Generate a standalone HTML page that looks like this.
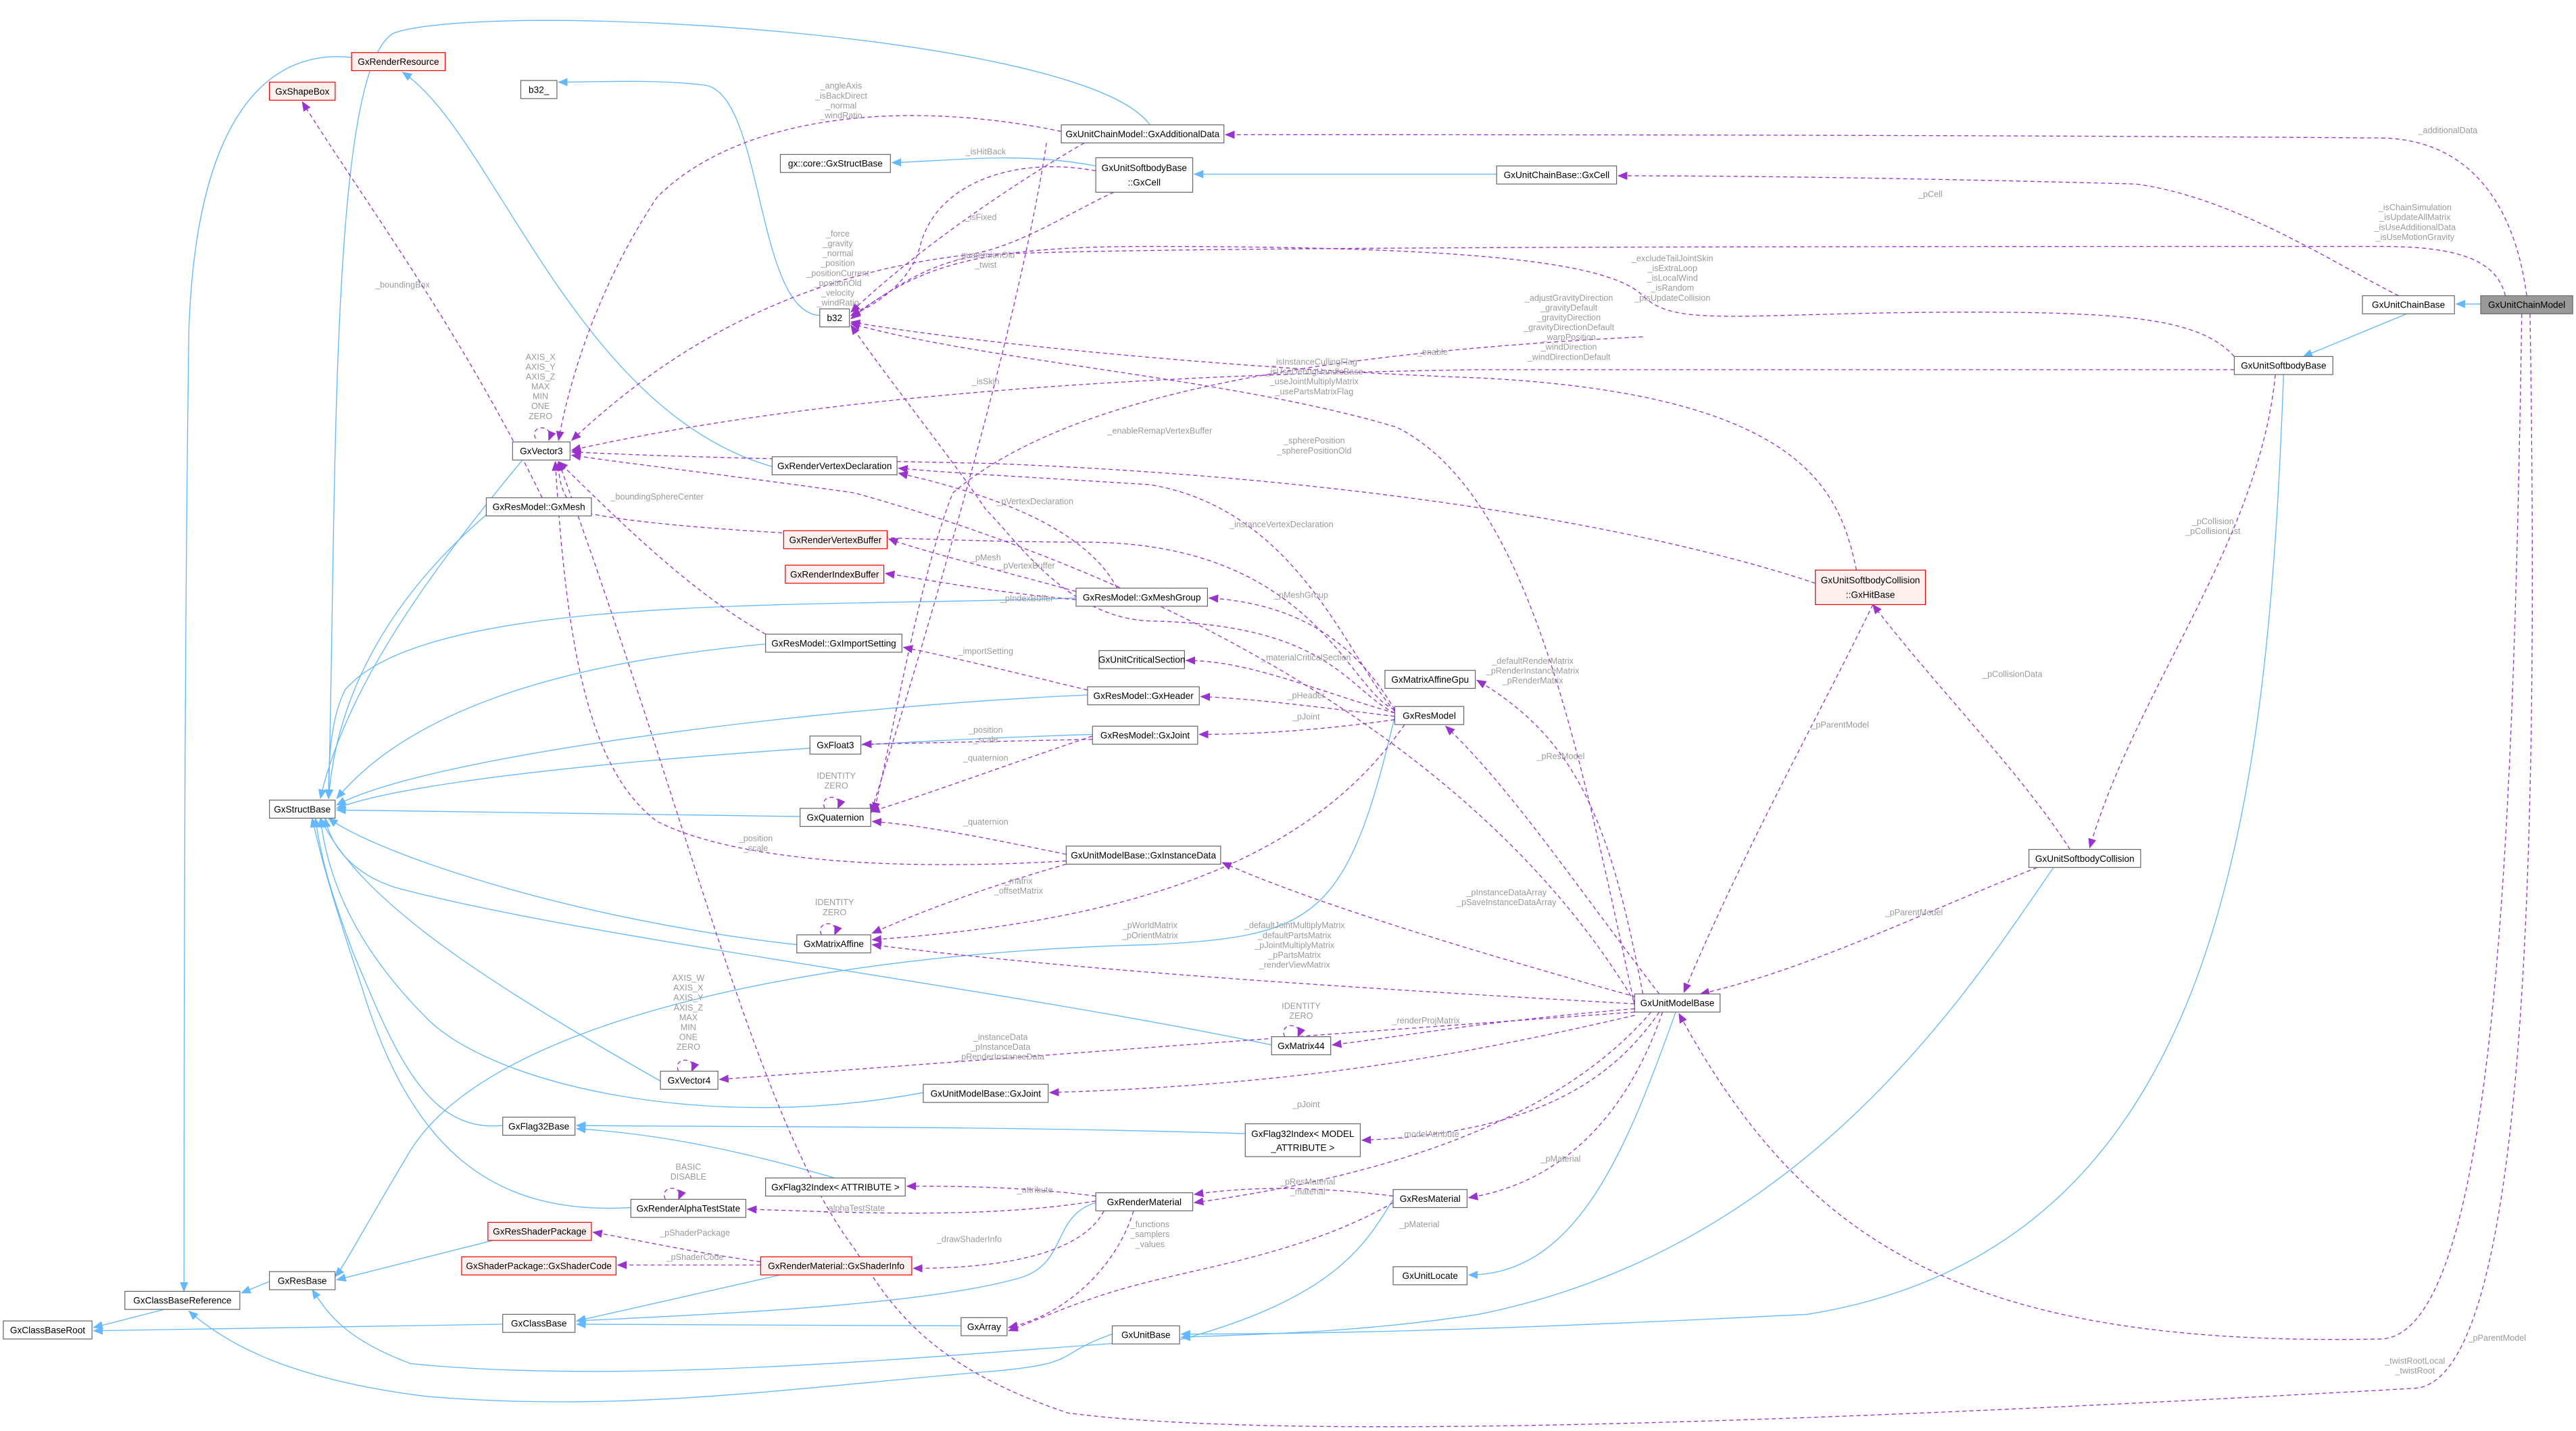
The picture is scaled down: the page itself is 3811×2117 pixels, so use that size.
<!DOCTYPE html>
<html><head><meta charset="utf-8"><style>
html,body{margin:0;padding:0;background:#fff;}
svg{display:block;}
.n{fill:#fff;stroke:#666;stroke-width:0.5;}
.r{fill:#fff0f0;stroke:#e00;stroke-width:0.5;}
.t{font-family:"Liberation Sans",sans-serif;font-size:5.6px;fill:#000;text-anchor:middle;}
.l{font-family:"Liberation Sans",sans-serif;font-size:5.2px;fill:#9a9a9a;text-anchor:middle;}
.b{fill:none;stroke:#63b8ff;stroke-width:0.55;}
.p{fill:none;stroke:#9a32cd;stroke-width:0.55;stroke-dasharray:2.5,1.8;}
</style></head><body>
<svg width="3811" height="2117" viewBox="0 0 1568 871" preserveAspectRatio="none" xmlns="http://www.w3.org/2000/svg">
<defs>
<marker id="ab" markerWidth="6" markerHeight="5" refX="5.5" refY="2.5" orient="auto" markerUnits="userSpaceOnUse"><path d="M0,0 L6,2.5 L0,5 Z" fill="#63b8ff"/></marker>
<marker id="ap" markerWidth="6" markerHeight="5" refX="5.5" refY="2.5" orient="auto" markerUnits="userSpaceOnUse"><path d="M0,0 L6,2.5 L0,5 Z" fill="#9a32cd"/></marker>
</defs>

<!-- blue inheritance edges -->
<g class="b" marker-end="url(#ab)">
<path d="M1510,185 L1495,185"/>
<path d="M1465,191 L1402,217"/>
<path d="M1390,228 C1380,500 1350,760 1100,800 C900,810 800,812 719,812"/>
<path d="M1250,528 C1200,600 1100,760 900,800 C820,812 760,812 719,814"/>
<path d="M1020,616 C990,700 960,776 894,776"/>
<path d="M911,106 L727,106"/>
<path d="M667,101 C620,92 580,98 543,99"/>
<path d="M700,76 C660,20 300,0 240,20 C200,40 205,300 200,486"/>
<path d="M499,192 C460,190 465,60 430,52 C400,48 360,50 340,50"/>
<path d="M214,35 C170,30 120,60 115,200 C112,400 112,700 112,786"/>
<path d="M470,284 C350,250 300,80 245,44"/>
<path d="M318,280 C260,350 210,420 195,486"/>
<path d="M300,310 C240,360 205,420 200,486"/>
<path d="M655,364 C500,370 260,360 210,420 C200,440 200,470 200,486"/>
<path d="M466,392 C380,400 260,420 205,486"/>
<path d="M662,423 C500,430 260,460 205,490"/>
<path d="M665,447 C500,452 260,470 205,492"/>
<path d="M487,497 L205,493"/>
<path d="M485,575 C350,560 230,520 200,498"/>
<path d="M774,636 C600,600 350,570 240,540 C210,530 200,510 198,498"/>
<path d="M402,658 C300,600 220,550 195,498"/>
<path d="M562,665 C430,690 300,660 260,620 C220,580 200,540 195,498"/>
<path d="M306,685 C260,690 240,640 215,580 C200,540 195,520 192,498"/>
<path d="M384,735 C300,740 250,700 220,600 C200,540 195,520 190,498"/>
<path d="M849,436 C820,560 800,570 700,575 C500,580 300,620 250,700 C220,750 210,770 204,777"/>
<path d="M758,690 C600,685 420,686 351,685"/>
<path d="M508,717 C450,700 400,690 351,687"/>
<path d="M300,755 L205,779"/>
<path d="M164,780 L147,787"/>
<path d="M100,797 L57,808"/>
<path d="M306,806 L57,810"/>
<path d="M667,732 C640,740 650,770 620,778 C560,795 430,800 351,804"/>
<path d="M585,807 L351,806"/>
<path d="M475,776 L351,804"/>
<path d="M848,730 C830,760 810,790 720,815 C620,820 400,845 250,830 C210,815 200,800 190,785"/>
<path d="M677,812 C640,825 660,830 600,835 C480,845 380,860 260,850 C180,840 140,820 115,798"/>
</g>

<!-- purple usage edges -->
<g class="p" marker-end="url(#ap)">
<path d="M1538,180 C1530,120 1500,85 1450,84 C1200,82 900,82 746,82"/>
<path d="M1525,180 C1520,160 1500,150 1450,150 C1100,150 700,150 600,155 C560,160 540,180 518,192"/>
<path d="M1460,180 C1420,160 1360,120 1300,112 C1150,108 1050,107 985,107"/>
<path d="M1360,217 C1340,195 1300,190 1200,190 C1060,190 1020,200 1000,180 C980,160 900,150 700,150 C600,150 560,160 518,194"/>
<path d="M1360,225 L900,225 C700,228 500,240 348,274"/>
<path d="M1385,228 C1375,330 1300,420 1272,516"/>
<path d="M1260,517 C1230,470 1180,420 1140,368"/>
<path d="M1240,528 C1160,560 1100,590 1035,605"/>
<path d="M1130,347 C1120,300 1100,240 900,230 C760,225 600,210 518,196"/>
<path d="M1105,355 C1000,320 820,290 600,282 C500,280 400,278 348,275"/>
<path d="M1140,368 C1110,430 1060,520 1025,604"/>
<path d="M1535,191 C1530,500 1520,810 1450,815 C1200,820 1100,760 1022,617"/>
<path d="M1540,191 C1545,500 1540,840 1470,845 C1200,860 800,880 650,860 C560,830 540,790 520,760 C460,680 420,500 340,281"/>
<path d="M646,80 C550,60 450,70 400,120 C360,180 345,240 340,268"/>
<path d="M660,87 C620,110 560,150 518,190"/>
<path d="M637,87 C620,200 560,400 530,495"/>
<path d="M667,104 C620,95 570,110 560,150 C555,170 535,185 518,192"/>
<path d="M678,117 C650,130 620,150 590,155 C500,165 420,200 348,268"/>
<path d="M1000,205 C800,215 650,240 580,300 C560,350 545,440 532,494"/>
<path d="M995,612 C960,450 930,300 850,260 C750,230 600,220 518,197"/>
<path d="M995,610 C900,450 700,350 520,300 C450,290 380,282 348,277"/>
<path d="M1000,605 C980,500 960,450 899,414"/>
<path d="M1010,605 C960,540 920,480 880,442"/>
<path d="M1000,608 C900,580 800,550 744,525"/>
<path d="M995,611 C800,600 650,590 531,575"/>
<path d="M995,614 C900,622 860,630 811,636"/>
<path d="M995,616 C800,630 600,645 438,657"/>
<path d="M995,618 C900,640 800,660 639,665"/>
<path d="M1010,616 C980,660 930,690 829,694"/>
<path d="M1012,616 C990,680 950,720 894,729"/>
<path d="M1005,616 C950,680 850,715 727,732"/>
<path d="M849,432 C820,420 800,330 660,330 C600,330 400,325 348,310"/>
<path d="M849,433 C820,400 790,310 700,295 C620,290 580,288 547,285"/>
<path d="M849,434 C820,420 810,380 700,378 C650,376 620,330 600,310 C580,280 540,230 518,198"/>
<path d="M849,432 C830,400 800,368 736,364"/>
<path d="M849,434 C800,420 760,402 722,402"/>
<path d="M849,436 C800,430 760,425 731,424"/>
<path d="M849,438 C800,445 760,447 730,447"/>
<path d="M855,441 C800,520 700,560 531,572"/>
<path d="M655,360 C600,345 560,335 541,328"/>
<path d="M655,365 C600,360 560,352 539,349"/>
<path d="M680,358 C660,320 600,300 547,288"/>
<path d="M665,450 L525,453"/>
<path d="M665,448 C600,470 560,485 530,494"/>
<path d="M662,420 C620,410 580,400 550,394"/>
<path d="M649,520 C600,510 560,502 531,500"/>
<path d="M649,524 C550,530 450,525 400,500 C360,470 345,400 338,281"/>
<path d="M649,526 C600,540 560,555 531,568"/>
<path d="M330,303 C280,200 220,120 184,62"/>
<path d="M345,303 C340,295 340,285 340,281"/>
<path d="M466,386 C420,360 380,320 340,281"/>
<path d="M667,728 C620,722 580,722 552,722"/>
<path d="M667,731 C600,742 520,738 455,736"/>
<path d="M672,737 C660,760 620,772 556,772"/>
<path d="M690,737 C680,770 650,800 614,808"/>
<path d="M848,732 C800,760 740,770 700,780 C660,790 640,800 614,810"/>
<path d="M848,728 C800,722 760,722 727,727"/>
<path d="M463,768 C420,762 390,755 361,750"/>
<path d="M463,770 L376,770"/>
<path d="M326,267 C322,258 338,258 334,268"/>
<path d="M502,492 C498,483 514,483 510,492"/>
<path d="M500,569 C496,560 512,560 508,569"/>
<path d="M782,631 C778,622 794,622 790,631"/>
<path d="M413,652 C409,643 425,643 421,652"/>
<path d="M405,730 C401,721 417,721 413,730"/>
</g>

<!-- edge labels -->
<g class="l">
<text x="1490" y="81">_additionalData</text>
<text x="1470" y="128">_isChainSimulation</text><text x="1470" y="134">_isUpdateAllMatrix</text><text x="1470" y="140">_isUseAdditionalData</text><text x="1470" y="146">_isUseMotionGravity</text>
<text x="1175" y="120">_pCell</text>
<text x="1018" y="159">_excludeTailJointSkin</text><text x="1018" y="165">_isExtraLoop</text><text x="1018" y="171">_isLocalWind</text><text x="1018" y="177">_isRandom</text><text x="1018" y="183">_pIsUpdateCollision</text>
<text x="955" y="183">_adjustGravityDirection</text><text x="955" y="189">_gravityDefault</text><text x="955" y="195">_gravityDirection</text><text x="955" y="201">_gravityDirectionDefault</text><text x="955" y="207">_warpPosition</text><text x="955" y="213">_windDirection</text><text x="955" y="219">_windDirectionDefault</text>
<text x="872" y="216">_enable</text>
<text x="800" y="222">_isInstanceCullingFlag</text><text x="800" y="228">_isUseDebugHandleBase</text><text x="800" y="234">_useJointMultiplyMatrix</text><text x="800" y="240">_usePartsMatrixFlag</text>
<text x="800" y="270">_spherePosition</text><text x="800" y="276">_spherePositionOld</text>
<text x="706" y="264">_enableRemapVertexBuffer</text>
<text x="1347" y="319">_pCollision</text><text x="1347" y="325">_pCollisionList</text>
<text x="1225" y="412">_pCollisionData</text>
<text x="1120" y="443">_pParentModel</text>
<text x="1165" y="557">_pParentModel</text>
<text x="1520" y="816">_pParentModel</text>
<text x="1470" y="830">_twistRootLocal</text><text x="1470" y="836">_twistRoot</text>
<text x="512" y="54">_angleAxis</text><text x="512" y="60">_isBackDirect</text><text x="512" y="66">_normal</text><text x="512" y="72">_windRatio</text>
<text x="600" y="94">_isHitBack</text>
<text x="597" y="134">_isFixed</text>
<text x="510" y="144">_force</text><text x="510" y="150">_gravity</text><text x="510" y="156">_normal</text><text x="510" y="162">_position</text><text x="510" y="168">_positionCurrent</text><text x="510" y="174">_positionOld</text><text x="510" y="180">_velocity</text><text x="510" y="186">_windRatio</text>
<text x="600" y="157">_quaternionOld</text><text x="600" y="163">_twist</text>
<text x="600" y="234">_isSkin</text>
<text x="780" y="321">_instanceVertexDeclaration</text>
<text x="630" y="307">_pVertexDeclaration</text>
<text x="600" y="341">_pMesh</text>
<text x="625" y="346">_pVertexBuffer</text>
<text x="625" y="366">_pIndexBuffer</text>
<text x="792" y="364">_pMeshGroup</text>
<text x="600" y="398">_importSetting</text>
<text x="795" y="402">_materialCriticalSection</text>
<text x="933" y="404">_defaultRenderMatrix</text><text x="933" y="410">_pRenderInstanceMatrix</text><text x="933" y="416">_pRenderMatrix</text>
<text x="795" y="425">_pHeader</text>
<text x="795" y="438">_pJoint</text>
<text x="950" y="462">_pResModel</text>
<text x="600" y="446">_position</text><text x="600" y="452">_scale</text>
<text x="600" y="463">_quaternion</text>
<text x="600" y="502">_quaternion</text>
<text x="460" y="512">_position</text><text x="460" y="518">_scale</text>
<text x="620" y="538">_matrix</text><text x="620" y="544">_offsetMatrix</text>
<text x="700" y="565">_pWorldMatrix</text><text x="700" y="571">_pOrientMatrix</text>
<text x="917" y="545">_pInstanceDataArray</text><text x="917" y="551">_pSaveInstanceDataArray</text>
<text x="788" y="565">_defaultJointMultiplyMatrix</text><text x="788" y="571">_defaultPartsMatrix</text><text x="788" y="577">_pJointMultiplyMatrix</text><text x="788" y="583">_pPartsMatrix</text><text x="788" y="589">_renderViewMatrix</text>
<text x="868" y="623">_renderProjMatrix</text>
<text x="609" y="633">_instanceData</text><text x="609" y="639">_pInstanceData</text><text x="609" y="645">_pRenderInstanceData</text>
<text x="795" y="674">_pJoint</text>
<text x="870" y="692">_modelAttribute</text>
<text x="950" y="707">_pMaterial</text>
<text x="796" y="721">_pResMaterial</text><text x="796" y="727">_material</text>
<text x="864" y="747">_pMaterial</text>
<text x="630" y="726">_attribute</text>
<text x="520" y="737">_alphaTestState</text>
<text x="590" y="756">_drawShaderInfo</text>
<text x="700" y="747">_functions</text><text x="700" y="753">_samplers</text><text x="700" y="759">_values</text>
<text x="423" y="752">_pShaderPackage</text>
<text x="423" y="767">_pShaderCode</text>
<text x="245" y="175">_boundingBox</text>
<text x="400" y="304">_boundingSphereCenter</text>
<text x="329" y="219">AXIS_X</text><text x="329" y="225">AXIS_Y</text><text x="329" y="231">AXIS_Z</text><text x="329" y="237">MAX</text><text x="329" y="243">MIN</text><text x="329" y="249">ONE</text><text x="329" y="255">ZERO</text>
<text x="509" y="474">IDENTITY</text><text x="509" y="480">ZERO</text>
<text x="508" y="551">IDENTITY</text><text x="508" y="557">ZERO</text>
<text x="792" y="614">IDENTITY</text><text x="792" y="620">ZERO</text>
<text x="419" y="597">AXIS_W</text><text x="419" y="603">AXIS_X</text><text x="419" y="609">AXIS_Y</text><text x="419" y="615">AXIS_Z</text><text x="419" y="621">MAX</text><text x="419" y="627">MIN</text><text x="419" y="633">ONE</text><text x="419" y="639">ZERO</text>
<text x="419" y="712">BASIC</text><text x="419" y="718">DISABLE</text>
</g>

<!-- nodes -->
<g>
<rect class="n" x="1510" y="180" width="56" height="11" style="fill:#999"/><text class="t" x="1538" y="187.5">GxUnitChainModel</text>
<rect class="n" x="1438" y="180" width="56" height="11"/><text class="t" x="1466" y="187.5">GxUnitChainBase</text>
<rect class="n" x="1360" y="217" width="60" height="11"/><text class="t" x="1390" y="224.5">GxUnitSoftbodyBase</text>
<rect class="n" x="911" y="101" width="73" height="11"/><text class="t" x="947.5" y="108.5">GxUnitChainBase::GxCell</text>
<rect class="n" x="667" y="96" width="59" height="21"/><text class="t" x="696.5" y="104">GxUnitSoftbodyBase</text><text class="t" x="696.5" y="113">::GxCell</text>
<rect class="n" x="646" y="76" width="99" height="11"/><text class="t" x="695.5" y="83.5">GxUnitChainModel::GxAdditionalData</text>
<rect class="n" x="475" y="94" width="67" height="11"/><text class="t" x="508.5" y="101.5">gx::core::GxStructBase</text>
<rect class="n" x="317" y="49" width="22" height="11"/><text class="t" x="328" y="56.5">b32_</text>
<rect class="n" x="499" y="188" width="18" height="11"/><text class="t" x="508" y="195.5">b32</text>
<rect class="r" x="214" y="32" width="57" height="11"/><text class="t" x="242.5" y="39.5">GxRenderResource</text>
<rect class="r" x="164" y="50" width="40" height="11"/><text class="t" x="184" y="57.5">GxShapeBox</text>
<rect class="n" x="312" y="269" width="35" height="11"/><text class="t" x="329.5" y="276.5">GxVector3</text>
<rect class="n" x="470" y="278" width="76" height="11"/><text class="t" x="508" y="285.5">GxRenderVertexDeclaration</text>
<rect class="n" x="296" y="303" width="64" height="11"/><text class="t" x="328" y="310.5">GxResModel::GxMesh</text>
<rect class="r" x="477" y="323" width="63" height="11"/><text class="t" x="508.5" y="330.5">GxRenderVertexBuffer</text>
<rect class="r" x="478" y="344" width="60" height="11"/><text class="t" x="508" y="351.5">GxRenderIndexBuffer</text>
<rect class="n" x="655" y="358" width="80" height="11"/><text class="t" x="695" y="365.5">GxResModel::GxMeshGroup</text>
<rect class="n" x="466" y="386" width="83" height="11"/><text class="t" x="507.5" y="393.5">GxResModel::GxImportSetting</text>
<rect class="n" x="669" y="396" width="52" height="11"/><text class="t" x="695" y="403.5">GxUnitCriticalSection</text>
<rect class="n" x="843" y="408" width="55" height="11"/><text class="t" x="870.5" y="415.5">GxMatrixAffineGpu</text>
<rect class="n" x="662" y="418" width="68" height="11"/><text class="t" x="696" y="425.5">GxResModel::GxHeader</text>
<rect class="n" x="849" y="430" width="42" height="11"/><text class="t" x="870" y="437.5">GxResModel</text>
<rect class="n" x="493" y="448" width="31" height="11"/><text class="t" x="508.5" y="455.5">GxFloat3</text>
<rect class="n" x="665" y="442" width="64" height="11"/><text class="t" x="697" y="449.5">GxResModel::GxJoint</text>
<rect class="n" x="164" y="487" width="40" height="11"/><text class="t" x="184" y="494.5">GxStructBase</text>
<rect class="n" x="487" y="492" width="43" height="11"/><text class="t" x="508.5" y="499.5">GxQuaternion</text>
<rect class="n" x="649" y="515" width="94" height="11"/><text class="t" x="696" y="522.5">GxUnitModelBase::GxInstanceData</text>
<rect class="r" x="1105" y="347" width="67" height="21"/><text class="t" x="1138.5" y="355">GxUnitSoftbodyCollision</text><text class="t" x="1138.5" y="364">::GxHitBase</text>
<rect class="n" x="1235" y="517" width="68" height="11"/><text class="t" x="1269" y="524.5">GxUnitSoftbodyCollision</text>
<rect class="n" x="485" y="569" width="45" height="11"/><text class="t" x="507.5" y="576.5">GxMatrixAffine</text>
<rect class="n" x="995" y="605" width="52" height="11"/><text class="t" x="1021" y="612.5">GxUnitModelBase</text>
<rect class="n" x="774" y="631" width="36" height="11"/><text class="t" x="792" y="638.5">GxMatrix44</text>
<rect class="n" x="402" y="652" width="35" height="11"/><text class="t" x="419.5" y="659.5">GxVector4</text>
<rect class="n" x="562" y="660" width="76" height="11"/><text class="t" x="600" y="667.5">GxUnitModelBase::GxJoint</text>
<rect class="n" x="306" y="680" width="44" height="11"/><text class="t" x="328" y="687.5">GxFlag32Base</text>
<rect class="n" x="758" y="684" width="70" height="20"/><text class="t" x="793" y="692">GxFlag32Index&lt; MODEL</text><text class="t" x="793" y="700.5">_ATTRIBUTE &gt;</text>
<rect class="n" x="466" y="717" width="85" height="11"/><text class="t" x="508.5" y="724.5">GxFlag32Index&lt; ATTRIBUTE &gt;</text>
<rect class="n" x="384" y="730" width="70" height="11"/><text class="t" x="419" y="737.5">GxRenderAlphaTestState</text>
<rect class="n" x="667" y="726" width="59" height="11"/><text class="t" x="696.5" y="733.5">GxRenderMaterial</text>
<rect class="n" x="848" y="724" width="45" height="11"/><text class="t" x="870.5" y="731.5">GxResMaterial</text>
<rect class="r" x="297" y="744" width="63" height="11"/><text class="t" x="328.5" y="751.5">GxResShaderPackage</text>
<rect class="r" x="281" y="765" width="94" height="11"/><text class="t" x="328" y="772.5">GxShaderPackage::GxShaderCode</text>
<rect class="r" x="463" y="765" width="92" height="11"/><text class="t" x="509" y="772.5">GxRenderMaterial::GxShaderInfo</text>
<rect class="n" x="164" y="774" width="40" height="11"/><text class="t" x="184" y="781.5">GxResBase</text>
<rect class="n" x="76" y="786" width="70" height="11"/><text class="t" x="111" y="793.5">GxClassBaseReference</text>
<rect class="n" x="2" y="804" width="54" height="11"/><text class="t" x="29" y="811.5">GxClassBaseRoot</text>
<rect class="n" x="306" y="800" width="44" height="11"/><text class="t" x="328" y="807.5">GxClassBase</text>
<rect class="n" x="585" y="802" width="28" height="11"/><text class="t" x="599" y="809.5">GxArray</text>
<rect class="n" x="848" y="771" width="45" height="11"/><text class="t" x="870.5" y="778.5">GxUnitLocate</text>
<rect class="n" x="677" y="807" width="41" height="11"/><text class="t" x="697.5" y="814.5">GxUnitBase</text>
</g>
</svg>
</body></html>
